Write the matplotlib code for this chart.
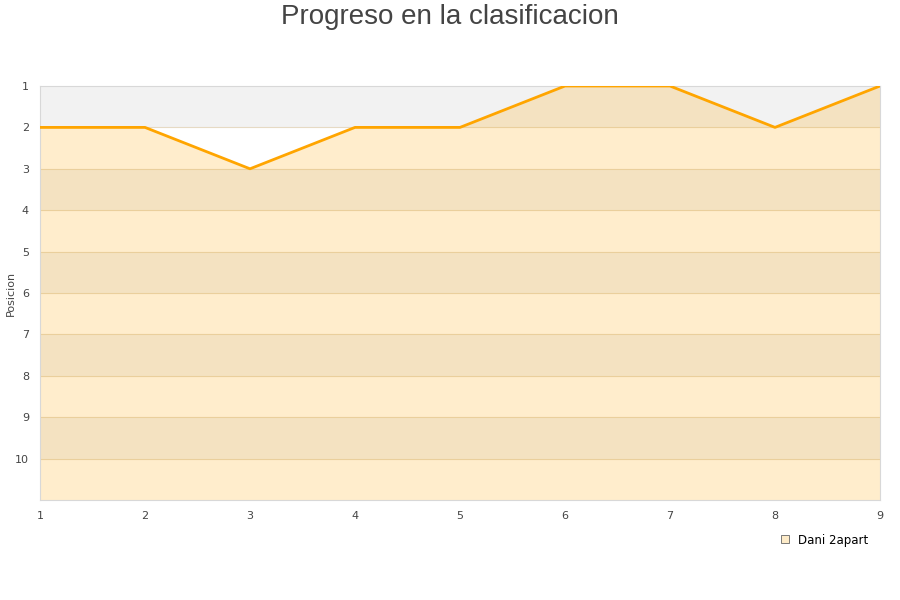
import matplotlib.pyplot as plt
import numpy as np

jornadas = [1, 2, 3, 4, 5, 6, 7, 8, 9]
posicion = [2, 2, 3, 2, 2, 1, 1, 2, 1]
equipo = 'Dani 2apart'

fig = plt.figure(figsize=(9, 6), dpi=100)
ax = fig.add_axes([40/900, 100/600, 840/900, 414/600])

# alternating bands in the background
for i in range(1, 11):
    if i % 2 == 1:
        ax.axhspan(i, i + 1, color='#f2f2f2', lw=0, zorder=0)
for i in range(2, 11):
    ax.axhline(i, color='#e6dac4', lw=0.8, zorder=1)

ax.fill_between(jornadas, posicion, 11, color='#ffa500', alpha=0.2, lw=0, zorder=2)
ax.plot(jornadas, posicion, color='#ffa500', lw=2, zorder=3)
ax.plot([], [], 's', color='#fdebc8', mec='#666666', mew=0.6, ms=6, label=equipo)

ax.set_xlim(1, 9)
ax.set_ylim(11, 1)
ax.set_xticks(jornadas)
ax.set_yticks(range(1, 11))
ax.tick_params(length=0, labelsize=8, colors='#444444')
ax.tick_params(axis='y', pad=8)
ax.tick_params(axis='x', pad=8)
for s in ax.spines.values():
    s.set_color('#d8d8d8')
fig.text(11/900, 1 - 293/600, 'Posicion', rotation=90, fontsize=8, color='#444444',
         ha='center', va='center')

fig.suptitle('Progreso en la clasificacion', fontsize=20, color='#444444', y=0.993,
             family='Liberation Sans')
fig.legend(loc='upper left', bbox_to_anchor=(768/900, 1 - 523/600), frameon=False,
           fontsize=8.5, handlelength=1, handletextpad=0.6)

fig.savefig('out.png')
